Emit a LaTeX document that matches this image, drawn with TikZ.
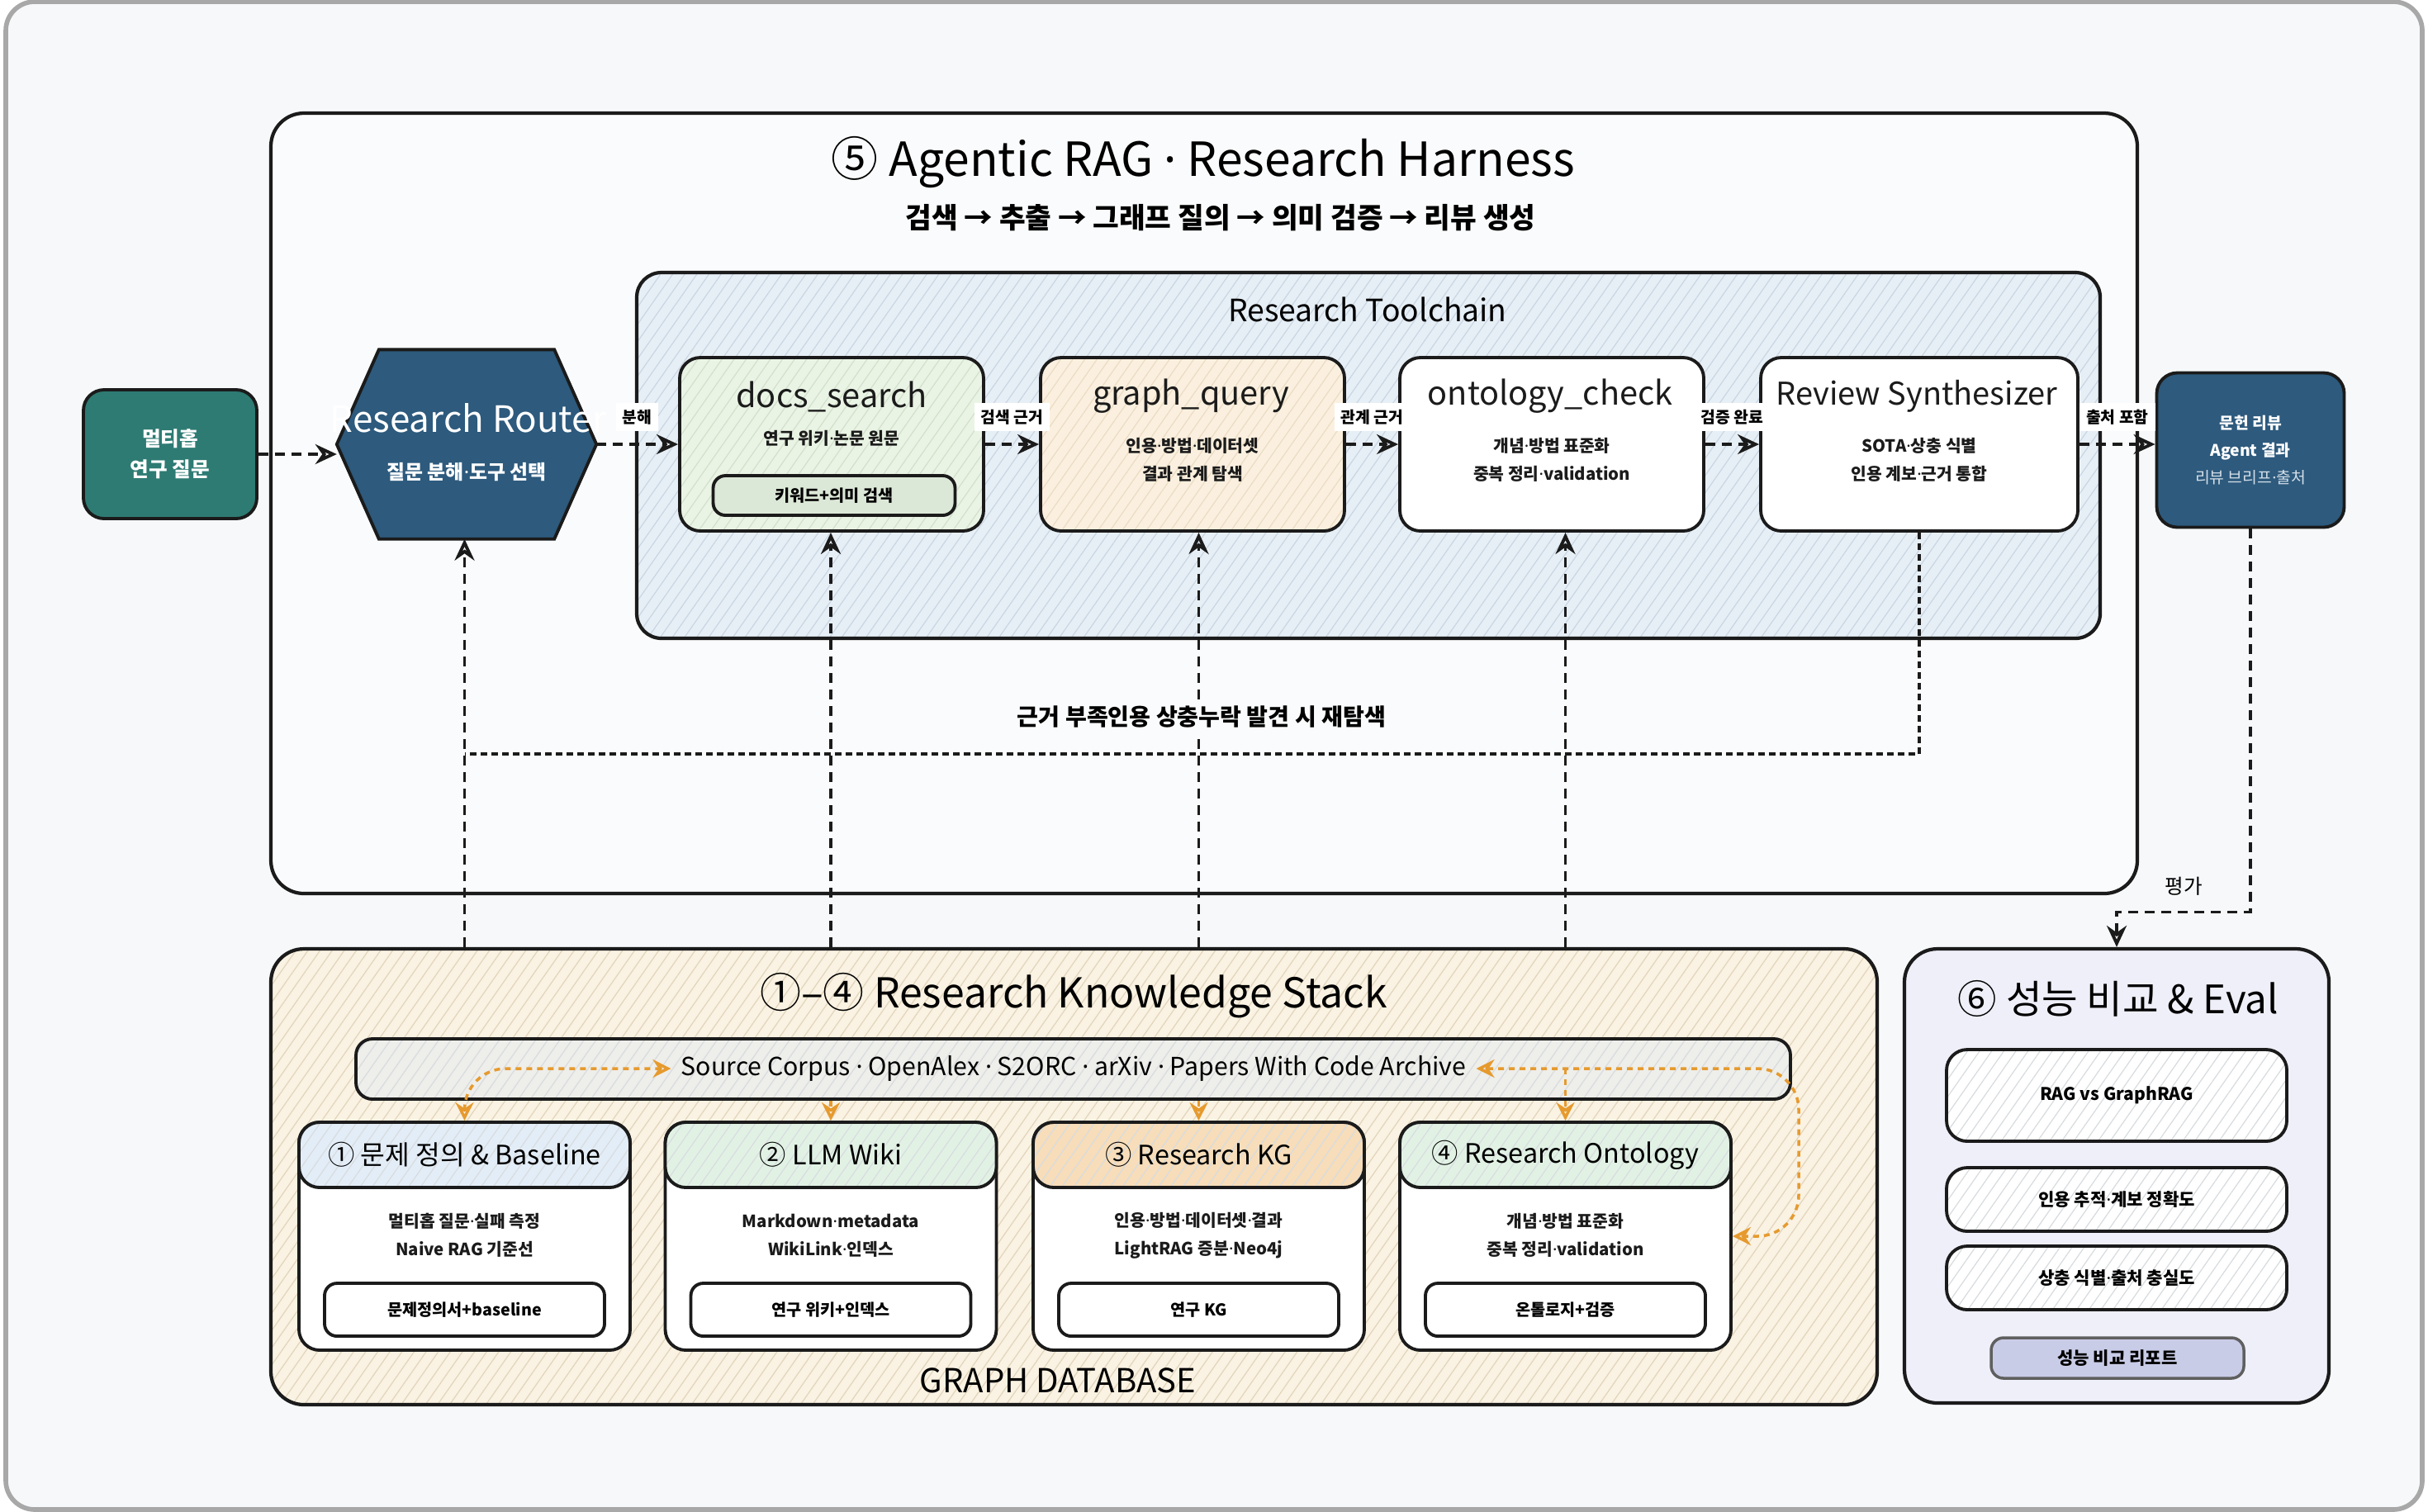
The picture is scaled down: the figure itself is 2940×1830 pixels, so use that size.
\documentclass[tikz,border=0pt]{standalone}
\usepackage{fontspec}
\setmainfont{Noto Sans CJK KR}
\newfontfamily\dotfont{Noto Sans}
\newcommand{\md}{{\dotfont ·}}
\usetikzlibrary{positioning,arrows.meta,patterns.meta}
\definecolor{FrameGray}{HTML}{A8A8A8}
\definecolor{PageBg}{HTML}{F6F8F9}
\definecolor{HarnessBg}{HTML}{FAFBFC}
\definecolor{ToolBlue}{HTML}{E7EFF6}
\definecolor{HatchBlue}{HTML}{C9D6E2}
\definecolor{DocsGreen}{HTML}{EAF4E5}
\definecolor{HatchGreen}{HTML}{D3E0CC}
\definecolor{DocsInner}{HTML}{DCE8D7}
\definecolor{GraphPeach}{HTML}{FBF0DF}
\definecolor{HatchPeach}{HTML}{EBDCC4}
\definecolor{TealQ}{HTML}{2E7B73}
\definecolor{NavyR}{HTML}{2D5A7D}
\definecolor{StackCream}{HTML}{FAF2E2}
\definecolor{HatchTan}{HTML}{E2D5BD}
\definecolor{SourceGray}{HTML}{EEEEEA}
\definecolor{HatchSoft}{HTML}{D8DCDF}
\definecolor{HeadBlue}{HTML}{E3EDF7}
\definecolor{HeadGreen}{HTML}{E1F2E5}
\definecolor{HeadOrange}{HTML}{F7DDB9}
\definecolor{EvalLav}{HTML}{EEEFF8}
\definecolor{ReportLav}{HTML}{C9CCE7}
\definecolor{OrangeLink}{HTML}{E69A2E}
\definecolor{InkBlack}{HTML}{1B1B1B}
\definecolor{PaleText}{HTML}{D3DEE8}
\tikzset{
  pageframe/.style={draw=FrameGray,line width=1.6pt,fill=PageBg,rounded corners=3.5mm},
  hatch/.style={pattern={Lines[angle=55,distance=1.2mm,line width=0.35pt]},pattern color=#1},
  panel/.style={draw=InkBlack,line width=1.2pt,rounded corners=4mm},
  toolbox/.style={draw=InkBlack,line width=1.1pt,rounded corners=2.5mm,
    minimum width=36.8mm,minimum height=21mm},
  tooltitle/.style={font=\fontsize{11.3}{13}\selectfont,text=InkBlack},
  toolnote/.style={font=\fontsize{5.8}{9.6}\selectfont\bfseries,align=center,text=InkBlack},
  navybox/.style={draw=InkBlack,line width=1.1pt,fill=NavyR,rounded corners=2.5mm,
    text=white,align=center},
  flow/.style={-{Stealth[open,length=2.6mm,width=2.4mm]},line width=1.1pt,
    dash pattern=on 1.2mm off 0.8mm,draw=InkBlack},
  fbline/.style={line width=1.2pt,dash pattern=on 0.8mm off 0.5mm,draw=InkBlack},
  orangeflow/.style={>={Stealth[open,length=2.2mm,width=2.2mm]},line width=1pt,
    dash pattern=on 0.7mm off 0.6mm,draw=OrangeLink,rounded corners=5mm},
  edgelbl/.style={fill=white,inner sep=0.8mm,font=\fontsize{5.5}{6.5}\selectfont\bfseries},
  cardbody/.style={draw=InkBlack,line width=1.1pt,fill=white,rounded corners=2.5mm,
    minimum width=40.1mm,minimum height=27.6mm},
  cardhead/.style={draw=InkBlack,line width=1.1pt,rounded corners=2.5mm,
    minimum width=40.1mm,minimum height=7.9mm,preaction={fill=#1},hatch=HatchSoft,
    font=\fontsize{9.2}{10.5}\selectfont},
  cardinner/.style={draw=InkBlack,line width=1.1pt,fill=white,rounded corners=1.5mm,
    minimum width=33.9mm,minimum height=6.4mm,font=\fontsize{5.6}{7}\selectfont\bfseries},
  evalitem/.style={draw=InkBlack,line width=1.1pt,rounded corners=2.5mm,preaction={fill=white},
    hatch=HatchSoft,minimum width=41.2mm,font=\fontsize{6}{7}\selectfont\bfseries}
}

\begin{document}
\begin{tikzpicture}[x=0.1mm,y=-0.1mm]
  \useasboundingbox (0,0) rectangle (2940,1830);
  \node[pageframe,minimum width=292.6mm,minimum height=182.6mm] (page) at (1470,915) {};

  % harness + toolchain
  \node[panel,fill=HarnessBg,minimum width=226mm,minimum height=94.5mm] (harness) at (1458,609.5) {};
  \node[font=\fontsize{16.2}{19}\selectfont] (harnessT) at (1457,197) {⑤ Agentic RAG \md{} Research Harness};
  \node[font=\fontsize{9.8}{12}\selectfont\bfseries] (harnessS) at (1478,264) {검색 → 추출 → 그래프 질의 → 의미 검증 → 리뷰 생성};
  \node[panel,rounded corners=3mm,preaction={fill=ToolBlue},hatch=HatchBlue,
    minimum width=177.2mm,minimum height=44.3mm] (toolchain) at (1657,551.5) {};
  \node[font=\fontsize{10.6}{12}\selectfont] (toolchainT) at (1656,375) {Research Toolchain};

  \node[toolbox,preaction={fill=DocsGreen},hatch=HatchGreen] (docs) at (1007,538) {};
  \node[tooltitle] (docsT) at (1007,480) {docs\_search};
  \node[toolnote] (docsN) at (1007,531) {연구 위키\md 논문 원문};
  \node[draw=InkBlack,line width=1.1pt,fill=DocsInner,rounded corners=1.5mm,minimum width=29.3mm,
    minimum height=4.8mm,font=\fontsize{5.6}{7}\selectfont\bfseries] (docsK) at (1010,600) {키워드+의미 검색};

  \node[toolbox,preaction={fill=GraphPeach},hatch=HatchPeach] (graphq) at (1444,538) {};
  \node[tooltitle] (graphqT) at (1442,480) {graph\_query};
  \node[toolnote] (graphqN) at (1444,557) {인용\md 방법\md 데이터셋\\결과 관계 탐색};

  \node[toolbox,fill=white] (onto) at (1879,538) {};
  \node[tooltitle] (ontoT) at (1877,480) {ontology\_check};
  \node[toolnote] (ontoN) at (1879,557) {개념\md 방법 표준화\\중복 정리\md validation};

  \node[toolbox,fill=white,minimum width=38.4mm] (review) at (2324,538) {};
  \node[tooltitle,font=\fontsize{10.8}{13}\selectfont] (reviewT) at (2321,480) {Review Synthesizer};
  \node[toolnote] (reviewN) at (2324,557) {SOTA\md 상충 식별\\인용 계보\md 근거 통합};

  % question, router, output
  \node[draw=InkBlack,line width=1.1pt,fill=TealQ,rounded corners=2.5mm,text=white,align=center,
    minimum width=21mm,minimum height=15.6mm,font=\fontsize{7}{10.5}\selectfont\bfseries] (question) at (206,550) {멀티홉\\연구 질문};
  \node[minimum width=31.3mm,minimum height=22.8mm,inner sep=0pt] (router) at (565,538) {};
  \filldraw[fill=NavyR,draw=InkBlack,line width=1.1pt] (router.west) -- ([xshift=5.1mm]router.north west)
    -- ([xshift=-5.1mm]router.north east) -- (router.east) -- ([xshift=-5.1mm]router.south east)
    -- ([xshift=5.1mm]router.south west) -- cycle;
  \node[text=white,font=\fontsize{12.5}{14}\selectfont] (routerT) at (567,506) {Research Router};
  \node[text=white,font=\fontsize{6.8}{8}\selectfont\bfseries] (routerS) at (565,572) {질문 분해\md 도구 선택};
  \node[navybox,minimum width=22.7mm,minimum height=18.7mm,font=\fontsize{5.5}{9.4}\selectfont] (output) at (2725,545)
    {\bfseries 문헌 리뷰\\\bfseries Agent 결과\\\color{PaleText}리뷰 브리프\md 출처};

  % main flow
  \draw[flow] (question.east) -- (question.east -| router.west);
  \draw[flow] (router.east) -- (docs.west) node[edgelbl,midway,yshift=3.3mm] {분해};
  \draw[flow] (docs.east) -- (graphq.west) node[edgelbl,midway,yshift=3.3mm] {검색 근거};
  \draw[flow] (graphq.east) -- (onto.west) node[edgelbl,midway,yshift=3.3mm] {관계 근거};
  \draw[flow] (onto.east) -- (review.west) node[edgelbl,midway,yshift=3.3mm] {검증 완료};
  \draw[flow] (review.east) -- (review.east -| output.west) node[edgelbl,midway,yshift=3.3mm] {출처 포함};

  % knowledge stack
  \node[panel,preaction={fill=StackCream},hatch=HatchTan,minimum width=194.5mm,minimum height=55.2mm] (stack) at (1300.5,1425) {};
  \node[font=\fontsize{14.2}{16}\selectfont] (stackT) at (1300,1206) {①–④ Research Knowledge Stack};
  \node[draw=InkBlack,line width=1.1pt,rounded corners=2mm,preaction={fill=SourceGray},hatch=HatchSoft,
    minimum width=173.7mm,minimum height=7.3mm] (source) at (1299.5,1294.5) {};
  \node[font=\fontsize{8.6}{10}\selectfont] (sourceT) at (1300,1294) {Source Corpus \md{} OpenAlex \md{} S2ORC \md{} arXiv \md{} Papers With Code Archive};
  \node[font=\fontsize{11.4}{13}\selectfont] (graphdb) at (1281,1672) {GRAPH DATABASE};

  \node[cardbody] (card1) at (562.5,1497) {};
  \node[cardhead=HeadBlue] (card1H) at (562.5,1398.5) {① 문제 정의 \& Baseline};
  \node[toolnote] (card1N) at (562.5,1496) {멀티홉 질문\md 실패 측정\\Naive RAG 기준선};
  \node[cardinner] (card1B) at (562.5,1586) {문제정의서+baseline};

  \node[cardbody] (card2) at (1006,1497) {};
  \node[cardhead=HeadGreen] (card2H) at (1006,1398.5) {② LLM Wiki};
  \node[toolnote] (card2N) at (1006,1496) {Markdown\md metadata\\WikiLink\md 인덱스};
  \node[cardinner] (card2B) at (1006,1586) {연구 위키+인덱스};

  \node[cardbody] (card3) at (1451.5,1497) {};
  \node[cardhead=HeadOrange] (card3H) at (1451.5,1398.5) {③ Research KG};
  \node[toolnote] (card3N) at (1451.5,1496) {인용\md 방법\md 데이터셋\md 결과\\LightRAG 증분\md Neo4j};
  \node[cardinner] (card3B) at (1451.5,1586) {연구 KG};

  \node[cardbody] (card4) at (1895.5,1497) {};
  \node[cardhead=HeadGreen] (card4H) at (1895.5,1398.5) {④ Research Ontology};
  \node[toolnote] (card4N) at (1895.5,1496) {개념\md 방법 표준화\\중복 정리\md validation};
  \node[cardinner] (card4B) at (1895.5,1586) {온톨로지+검증};

  \draw[orangeflow,<->] (card1.north) |- (sourceT.west);
  \draw[orangeflow,->] (card2.north |- source.south) -- (card2.north);
  \draw[orangeflow,->] (card3.north |- source.south) -- (card3.north);
  \draw[orangeflow,->] (card4.north |- sourceT.east) -- (card4.north);
  \draw[orangeflow,<->] (sourceT.east) -- (2178,1294) |- (card4.east);

  % evaluation
  \node[panel,fill=EvalLav,minimum width=51.4mm,minimum height=55mm] (evalpanel) at (2563,1424) {};
  \node[font=\fontsize{13.5}{15}\selectfont] (evalT) at (2565,1209) {⑥ 성능 비교 \& Eval};
  \node[evalitem,minimum height=11.1mm] (evalA) at (2563,1326.5) {RAG vs GraphRAG};
  \node[evalitem,minimum height=7.7mm] (evalB) at (2563,1452.5) {인용 추적\md 계보 정확도};
  \node[evalitem,minimum height=7.7mm] (evalC) at (2563,1547.5) {상충 식별\md 출처 충실도};
  \node[draw=InkBlack!70,line width=1pt,fill=ReportLav,rounded corners=1.5mm,minimum width=30.6mm,
    minimum height=4.9mm,font=\fontsize{6}{7}\selectfont\bfseries] (evalR) at (2564,1644.5) {성능 비교 리포트};

  % feeds from stack, re-search loop, evaluation
  \draw[flow] (card1.north |- stack.north) -- (card1.north |- router.south);
  \draw[flow] (card2.north |- stack.north) -- (card2.north |- docs.south);
  \draw[flow] (card3.north |- stack.north) -- (card3.north |- graphq.south);
  \draw[flow] (card4.north |- stack.north) -- (card4.north |- onto.south);
  \coordinate (fbturn) at (562.5,913);
  \draw[fbline] (review.south) |- (fbturn);
  \node[fill=HarnessBg,inner sep=0.6mm,font=\fontsize{8}{9}\selectfont\bfseries] (fbtext) at (1455,868) {근거 부족인용 상충누락 발견 시 재탐색};
  \draw[flow] (output.south) -- ++(0,464) -| (evalpanel.north)
    node[pos=0.25,above=0.6mm,font=\fontsize{7}{8}\selectfont] (evallbl) {평가};
\end{tikzpicture}
\end{document}
